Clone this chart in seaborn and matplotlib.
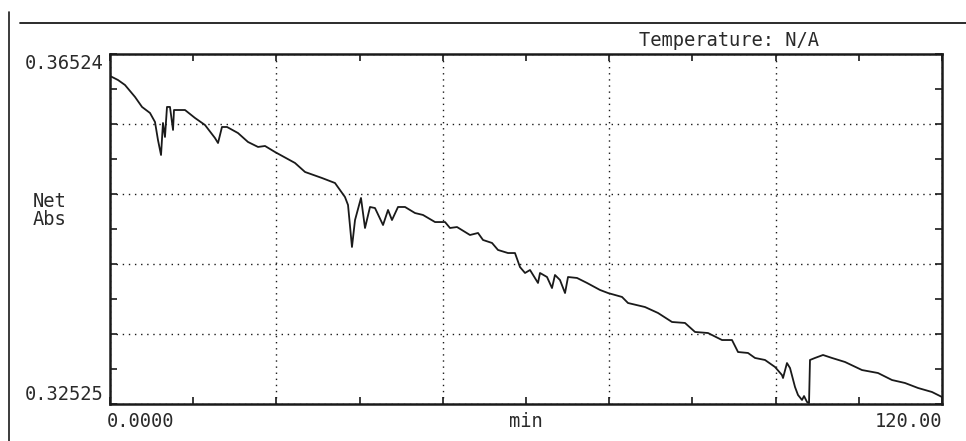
import numpy as np
import matplotlib
matplotlib.use("Agg")
import matplotlib.pyplot as plt
from matplotlib.lines import Line2D
import seaborn as sns

# Kinetic trace: net absorbance vs time
time_min = [
    0.0, 1.15, 2.16, 3.61, 4.62, 5.77, 6.49, 6.92, 7.36, 7.64, 7.93, 8.22,
    8.65, 9.09, 9.23, 9.66, 10.82, 12.26, 13.70, 15.14, 15.58, 16.15, 16.88,
    18.46, 19.90, 21.35, 22.36, 23.80, 26.68, 28.13, 30.58, 32.45, 33.89,
    34.33, 34.90, 35.34, 36.20, 36.78, 37.50, 38.22, 39.38, 40.10, 40.67,
    41.54, 42.55, 43.99, 45.14, 46.88, 48.32, 49.04, 50.05, 51.92, 53.08,
    53.80, 55.10, 55.96, 57.40, 58.41, 59.13, 59.86, 60.58, 61.73, 62.02,
    63.03, 63.75, 64.18, 64.90, 65.63, 66.06, 67.36, 68.80, 70.67, 71.83,
    73.85, 74.71, 77.16, 79.04, 81.06, 82.93, 84.38, 86.25, 88.27, 89.71,
    90.58, 92.02, 93.03, 94.47, 95.91, 96.92, 97.07, 97.64, 98.08, 98.80,
    99.23, 99.81, 100.10, 100.53, 100.82, 100.96, 101.68, 102.84, 104.13,
    106.01, 108.46, 110.77, 112.79, 114.66, 116.54, 118.56, 120.0,
]
net_abs = [
    0.36273, 0.36227, 0.36170, 0.36033, 0.35919, 0.35850, 0.35747, 0.35541,
    0.35370, 0.35736, 0.35576, 0.35919, 0.35919, 0.35656, 0.35884, 0.35884,
    0.35884, 0.35793, 0.35713, 0.35564, 0.35507, 0.35690, 0.35690, 0.35621,
    0.35519, 0.35462, 0.35473, 0.35404, 0.35279, 0.35176, 0.35107, 0.35050,
    0.34890, 0.34799, 0.34319, 0.34627, 0.34879, 0.34536, 0.34776, 0.34764,
    0.34570, 0.34742, 0.34627, 0.34776, 0.34776, 0.34707, 0.34685, 0.34604,
    0.34604, 0.34536, 0.34547, 0.34456, 0.34479, 0.34399, 0.34365, 0.34285,
    0.34250, 0.34250, 0.34090, 0.34022, 0.34056, 0.33908, 0.34022, 0.33976,
    0.33850, 0.33999, 0.33942, 0.33793, 0.33976, 0.33965, 0.33908, 0.33828,
    0.33793, 0.33748, 0.33679, 0.33633, 0.33565, 0.33462, 0.33451, 0.33348,
    0.33336, 0.33256, 0.33256, 0.33119, 0.33108, 0.33051, 0.33028, 0.32948,
    0.32856, 0.32822, 0.32993, 0.32936, 0.32719, 0.32628, 0.32571, 0.32616,
    0.32548, 0.32536, 0.33028, 0.33051, 0.33085, 0.33051, 0.33005, 0.32913,
    0.32879, 0.32799, 0.32765, 0.32708, 0.32662, 0.32605,
]

x_min, x_max = 0.0, 120.0
y_min, y_max = 0.32525, 0.36524
x_labels = ["0.0000", "120.00"]
y_labels = ["0.36524", "0.32525"]
x_title = "min"
y_title = "Net\nAbs"
header = "Temperature: N/A"

sns.set_style("white")
plt.rcParams["font.family"] = ["DejaVu Sans Mono", "DejaVu Sans"]
ink = "#1a1a1a"
text_ink = "#2a2a2a"

fig = plt.figure(figsize=(9.66, 4.41), dpi=100)
ax = fig.add_axes([110 / 966, 1 - 404 / 441, 832 / 966, 350 / 441])

sns.lineplot(x=time_min, y=net_abs, ax=ax, color=ink, linewidth=1.3,
             sort=False, estimator=None)

ax.set_xlim(x_min, x_max)
ax.set_ylim(y_min, y_max)
ax.set_xlabel("")
ax.set_ylabel("")

xmaj = np.linspace(x_min, x_max, 6)
ymaj = np.linspace(y_min, y_max, 6)
ax.set_xticks(xmaj)
ax.set_yticks(ymaj)
ax.set_xticks((xmaj[:-1] + xmaj[1:]) / 2, minor=True)
ax.set_yticks((ymaj[:-1] + ymaj[1:]) / 2, minor=True)
ax.tick_params(which="both", direction="in", length=5, width=1.2,
               color=ink, top=True, right=True, bottom=True, left=True,
               labelbottom=False, labelleft=False)
ax.grid(True, which="major", color=ink, linestyle=(0, (1, 3.4)), linewidth=1.0)
for s in ax.spines.values():
    s.set_color(ink)
    s.set_linewidth(1.8)

fs = 13.5
ax.text(-0.008, 1.0, y_labels[0], transform=ax.transAxes, ha="right",
        va="top", fontsize=fs, color=text_ink)
ax.text(-0.008, 0.0, y_labels[1], transform=ax.transAxes, ha="right",
        va="bottom", fontsize=fs, color=text_ink)
ax.text(-0.004, -0.022, x_labels[0], transform=ax.transAxes, ha="left",
        va="top", fontsize=fs, color=text_ink)
ax.text(1.0, -0.022, x_labels[1], transform=ax.transAxes, ha="right",
        va="top", fontsize=fs, color=text_ink)
ax.text(0.5, -0.022, x_title, transform=ax.transAxes, ha="center",
        va="top", fontsize=fs, color=text_ink)
fig.text(33 / 966, 1 - 192 / 441, y_title, ha="left", va="top",
         fontsize=fs, color=text_ink, linespacing=0.95)
fig.text(819 / 966, 1 - 46 / 441, header, ha="right", va="baseline",
         fontsize=fs, color=text_ink)

# page rules of the printout
fig.add_artist(Line2D([20 / 966, 1.0], [1 - 23 / 441] * 2,
                      transform=fig.transFigure, color=ink, linewidth=1.3))
fig.add_artist(Line2D([9 / 966] * 2, [0.0, 1 - 12 / 441],
                      transform=fig.transFigure, color=ink, linewidth=1.2))

fig.savefig("out.png", dpi=100, facecolor="white")
